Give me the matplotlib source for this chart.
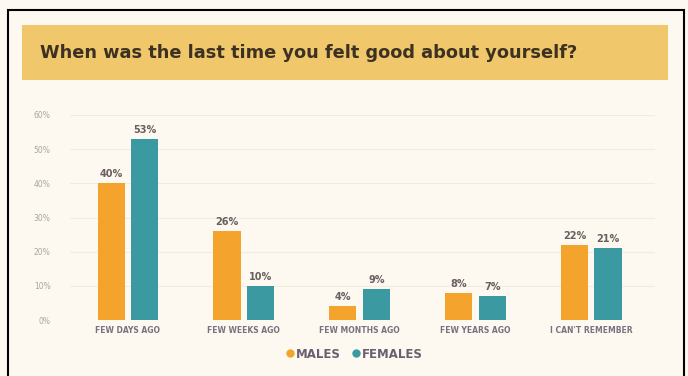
import matplotlib.pyplot as plt
from matplotlib.patches import Rectangle
from matplotlib.lines import Line2D
import numpy as np

categories = ['FEW DAYS AGO', 'FEW WEEKS AGO', 'FEW MONTHS AGO', 'FEW YEARS AGO', "I CAN'T REMEMBER"]
males = [40, 26, 4, 8, 22]
females = [53, 10, 9, 7, 21]
yticks = [0, 10, 20, 30, 40, 50, 60]

orange = '#F4A42C'
teal = '#3B9AA1'
bg = '#FDF9F1'

W, H = 688, 376
fig = plt.figure(figsize=(W / 100, H / 100), dpi=100)
fig.patch.set_facecolor(bg)

# frame and title band
fig.patches.append(Rectangle((8 / W, -0.02), 676 / W, (H - 10) / H + 0.02, transform=fig.transFigure,
                             fill=False, edgecolor='black', linewidth=1.5))
fig.patches.append(Rectangle((22 / W, 1 - 80 / H), 646 / W, 55 / H, transform=fig.transFigure,
                             facecolor='#F0C86B', edgecolor='none'))
fig.text(40 / W, 1 - 53 / H, 'When was the last time you felt good about yourself?',
         fontsize=12.8, fontweight='bold', color='#3D3222', va='center', ha='left')

ax = fig.add_axes([70 / W, (H - 320) / H, 585 / W, 205 / H])
ax.set_facecolor(bg)

x = np.arange(len(categories))
w = 0.235
off = 0.145
b1 = ax.bar(x - off, males, w, color=orange)
b2 = ax.bar(x + off, females, w, color=teal)

for bars, vals in ((b1, males), (b2, females)):
    for b, v in zip(bars, vals):
        ax.text(b.get_x() + b.get_width() / 2, v + 1.2, f'{v}%', ha='center', va='bottom',
                fontsize=7, fontweight='bold', color='#6A5E60')

ax.set_xlim(-0.5, len(categories) - 0.45)
ax.set_ylim(0, 60)
ax.set_yticks(yticks)
ax.set_yticklabels([f'{t}%' for t in yticks], fontsize=5.5, color='#A9A4A0')
ax.set_xticks(x)
ax.set_xticklabels(categories, fontsize=5.5, color='#7A7080', fontweight='bold')
ax.tick_params(length=0, pad=4)
ax.tick_params(axis='y', pad=14)
ax.grid(axis='y', color='#F0ECE2', linewidth=0.8)
ax.set_axisbelow(True)
for s in ax.spines.values():
    s.set_visible(False)

handles = [Line2D([], [], marker='o', linestyle='none', markersize=5, color=orange),
           Line2D([], [], marker='o', linestyle='none', markersize=5, color=teal)]
fig.legend(handles=handles, labels=['MALES', 'FEMALES'], loc='center', bbox_to_anchor=(355 / W, 1 - 354 / H),
           ncol=2, frameon=False, prop={'size': 8.5, 'weight': 'bold'}, handlelength=0.6,
           handletextpad=0.2, columnspacing=1.0, labelcolor='#6A5E70')

fig.savefig('out.png', dpi=100, facecolor=bg)
